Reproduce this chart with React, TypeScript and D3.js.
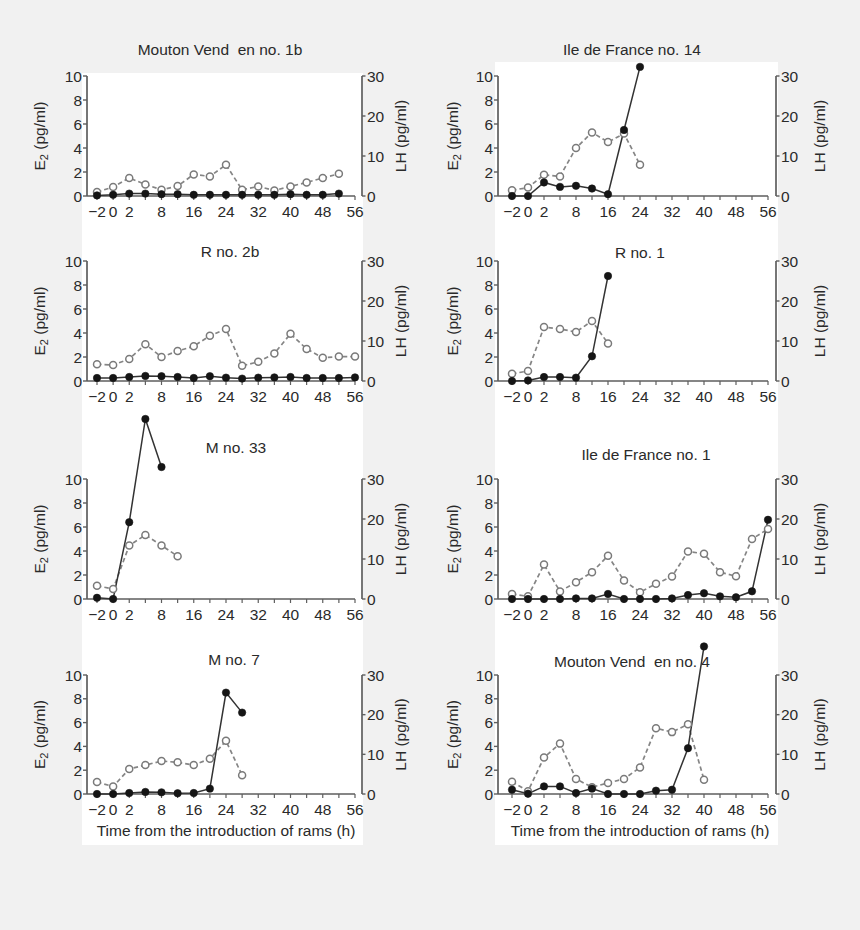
import React, { useEffect } from "react";
import * as d3 from "d3";

// ---- data ----
const times = [-2, 0, 2, 4, 8, 12, 16, 20, 24, 28, 32, 36, 40, 44, 48, 52, 56];
const timeTickLabels = [-2, 0, 2, 8, 16, 24, 32, 40, 48, 56];
const e2Ticks = [0, 2, 4, 6, 8, 10];
const lhTicks = [0, 10, 20, 30];

const titles = [
  "Mouton Vend  en no. 1b",
  "Ile de France no. 14",
  "R no. 2b",
  "R no. 1",
  "M no. 33",
  "Ile de France no. 1",
  "M no. 7",
  "Mouton Vend  en no. 4",
];

const e2Panel1 = [0.05, 0.1, 0.2, 0.2, 0.15, 0.15, 0.1, 0.1, 0.1, 0.1, 0.1, 0.1, 0.15, 0.1, 0.1, 0.2];
const lhPanel1 = [1.0, 2.25, 4.5, 2.9, 1.55, 2.5, 5.4, 4.9, 7.8, 1.55, 2.4, 1.4, 2.4, 3.4, 4.5, 5.55];

const e2Panel2 = [0, 0, 1.13, 0.76, 0.85, 0.62, 0.15, 5.5, 10.76];
const lhPanel2 = [1.44, 2.1, 5.3, 4.9, 12, 15.9, 13.5, 15.6, 7.8];

const e2Panel3 = [0.25, 0.25, 0.33, 0.42, 0.4, 0.33, 0.25, 0.4, 0.28, 0.2, 0.28, 0.3, 0.33, 0.25, 0.25, 0.25, 0.3];
const lhPanel3 = [4.2, 4.0, 5.5, 9.2, 6.0, 7.5, 8.7, 11.3, 13.0, 3.8, 4.8, 6.9, 11.8, 8.0, 5.8, 6.1, 6.1];

const e2Panel4 = [0, 0.05, 0.33, 0.33, 0.28, 2.06, 8.75];
const lhPanel4 = [1.8, 2.5, 13.5, 13.0, 12.25, 15.0, 9.4];

const e2Panel5 = [0.1, 0, 6.4, 15.0, 11.0];
const lhPanel5 = [3.3, 2.5, 13.4, 16.0, 13.4, 10.7];

const e2Panel6 = [0, 0, 0, 0, 0.05, 0.05, 0.42, 0, 0, 0, 0.05, 0.33, 0.48, 0.22, 0.14, 0.64, 6.6];
const lhPanel6 = [1.26, 0.66, 8.6, 1.9, 4.2, 6.7, 10.8, 4.6, 1.7, 3.8, 5.6, 11.9, 11.3, 6.7, 5.7, 15.0, 17.5];

const e2Panel7 = [0, 0, 0.08, 0.17, 0.14, 0.06, 0.08, 0.45, 8.52, 6.84];
const lhPanel7 = [3.0, 1.9, 6.3, 7.3, 8.3, 8.0, 7.3, 8.9, 13.4, 4.7];

const e2Panel8 = [0.36, 0.03, 0.64, 0.64, 0.08, 0.45, 0, 0, 0, 0.28, 0.36, 3.85, 12.4];
const lhPanel8 = [3.1, 0.7, 9.2, 12.7, 3.8, 1.7, 2.8, 3.8, 6.7, 16.6, 15.6, 17.6, 3.6];

const e2Series = [e2Panel1, e2Panel2, e2Panel3, e2Panel4, e2Panel5, e2Panel6, e2Panel7, e2Panel8];
const lhSeries = [lhPanel1, lhPanel2, lhPanel3, lhPanel4, lhPanel5, lhPanel6, lhPanel7, lhPanel8];

const xTitle = "Time from the introduction of rams (h)";

// ---- layout ----
const W = 860;
const H = 930;
const FONT = "'Liberation Sans', Arial, Helvetica, sans-serif";
const FS = 15.5;
const TEXT = "#2a2a2a";
const AXIS = "#5e5e5e";

const columns = [
  { axisL: 87, first: 97, last: 355, axisR: 362, e2LabelX: 45, lhLabelX: 406, bgX0: 82, bgX1: 363, bgY0: 73 },
  { axisL: 498, first: 512, last: 768, axisR: 776, e2LabelX: 458, lhLabelX: 825, bgX0: 495, bgX1: 778, bgY0: 62 },
];
const rows = [
  { y0: 196, y10: 76 },
  { y0: 381, y10: 261 },
  { y0: 599, y10: 479 },
  { y0: 794, y10: 675 },
];
const titlePos = [
  [220, 55], [632, 55], [230, 257], [640, 258],
  [236, 453], [646, 460], [234, 665], [632, 667],
];

function Panel({ idx }: { idx: number }) {
  const col = columns[idx % 2];
  const row = rows[Math.floor(idx / 2)];
  const x = d3.scalePoint<number>().domain(times).range([col.first, col.last]);
  const yE = d3.scaleLinear().domain([0, 10]).range([row.y0, row.y10]);
  const yL = d3.scaleLinear().domain([0, 30]).range([row.y0, row.y10]);
  const e2 = e2Series[idx];
  const lh = lhSeries[idx];
  const lineE = d3
    .line<number>()
    .x((_, i) => x(times[i]) as number)
    .y((d) => yE(d));
  const lineL = d3
    .line<number>()
    .x((_, i) => x(times[i]) as number)
    .y((d) => yL(d));
  const midY = (row.y0 + row.y10) / 2;
  const isBottom = Math.floor(idx / 2) === 3;
  return (
    <g>
      {/* left axis */}
      <line x1={col.axisL} x2={col.axisL} y1={yE(0)} y2={yE(10)} stroke={AXIS} strokeWidth={1.7} />
      {e2Ticks.map((t) => (
        <g key={"e" + t}>
          <line x1={col.axisL - 4} x2={col.axisL} y1={yE(t)} y2={yE(t)} stroke={AXIS} strokeWidth={1.4} />
          <text x={col.axisL - 5} y={yE(t)} dy="0.36em" textAnchor="end" fontSize={FS} fill={TEXT}>
            {t}
          </text>
        </g>
      ))}
      {/* right axis */}
      <line x1={col.axisR} x2={col.axisR} y1={yL(0)} y2={yL(30)} stroke={AXIS} strokeWidth={1.7} />
      {lhTicks.map((t) => (
        <g key={"l" + t}>
          <line x1={col.axisR} x2={col.axisR + 3.5} y1={yL(t)} y2={yL(t)} stroke={AXIS} strokeWidth={1.4} />
          <text x={col.axisR + 5} y={yL(t)} dy="0.36em" textAnchor="start" fontSize={FS} fill={TEXT}>
            {t}
          </text>
        </g>
      ))}
      {/* x axis */}
      <line x1={col.axisL} x2={col.last} y1={row.y0} y2={row.y0} stroke={AXIS} strokeWidth={1.7} />
      {times.map((t) => (
        <line key={"xt" + t} x1={x(t)} x2={x(t)} y1={row.y0} y2={row.y0 + 4} stroke={AXIS} strokeWidth={1.2} />
      ))}
      {timeTickLabels.map((t) => (
        <text key={"xl" + t} x={x(t)} y={row.y0 + 20.5} textAnchor="middle" fontSize={FS} fill={TEXT}>
          {t < 0 ? "\u2212" + Math.abs(t) : String(t)}
        </text>
      ))}
      {/* axis labels */}
      <text
        transform={`translate(${col.e2LabelX},${midY}) rotate(-90)`}
        textAnchor="middle"
        fontSize={FS}
        fill={TEXT}
      >
        <tspan>E</tspan>
        <tspan fontSize={11} dy={3}>2</tspan>
        <tspan dy={-3}> (pg/ml)</tspan>
      </text>
      <text
        transform={`translate(${col.lhLabelX},${midY}) rotate(-90)`}
        textAnchor="middle"
        fontSize={FS}
        fill={TEXT}
      >
        LH (pg/ml)
      </text>
      {/* title */}
      <text
        x={titlePos[idx][0]}
        y={titlePos[idx][1]}
        textAnchor="middle"
        fontSize={FS}
        fill={TEXT}
        style={{ whiteSpace: "pre" }}
      >
        {titles[idx]}
      </text>
      {isBottom && (
        <text x={(col.first + col.last) / 2} y={836} textAnchor="middle" fontSize={FS} fill={TEXT}>
          {xTitle}
        </text>
      )}
      {/* LH series */}
      <path d={lineL(lh) || ""} fill="none" stroke="#858585" strokeWidth={1.7} strokeDasharray="4.5,3" />
      {/* E2 series */}
      <path d={lineE(e2) || ""} fill="none" stroke="#333" strokeWidth={1.5} />
      {lh.map((v, i) => (
        <circle key={"lc" + i} cx={x(times[i])} cy={yL(v)} r={3.5} fill="#fff" stroke="#7a7a7a" strokeWidth={1.5} />
      ))}
      {e2.map((v, i) => (
        <circle key={"ec" + i} cx={x(times[i])} cy={yE(v)} r={3.7} fill="#151515" stroke="#151515" strokeWidth={0.6} />
      ))}
    </g>
  );
}

export default function App() {
  useEffect(() => {
    document.body.style.margin = "0";
    document.body.style.background = "#f1f1f1";
  }, []);
  return (
    <svg width={W} height={H} viewBox={`0 0 ${W} ${H}`} style={{ display: "block", fontFamily: FONT }}>
      <rect x={0} y={0} width={W} height={H} fill="#f1f1f1" />
      {columns.map((c, i) => (
        <rect key={"bg" + i} x={c.bgX0} y={c.bgY0} width={c.bgX1 - c.bgX0} height={845 - c.bgY0} fill="#ffffff" />
      ))}
      {titles.map((_, i) => (
        <Panel key={i} idx={i} />
      ))}
    </svg>
  );
}
